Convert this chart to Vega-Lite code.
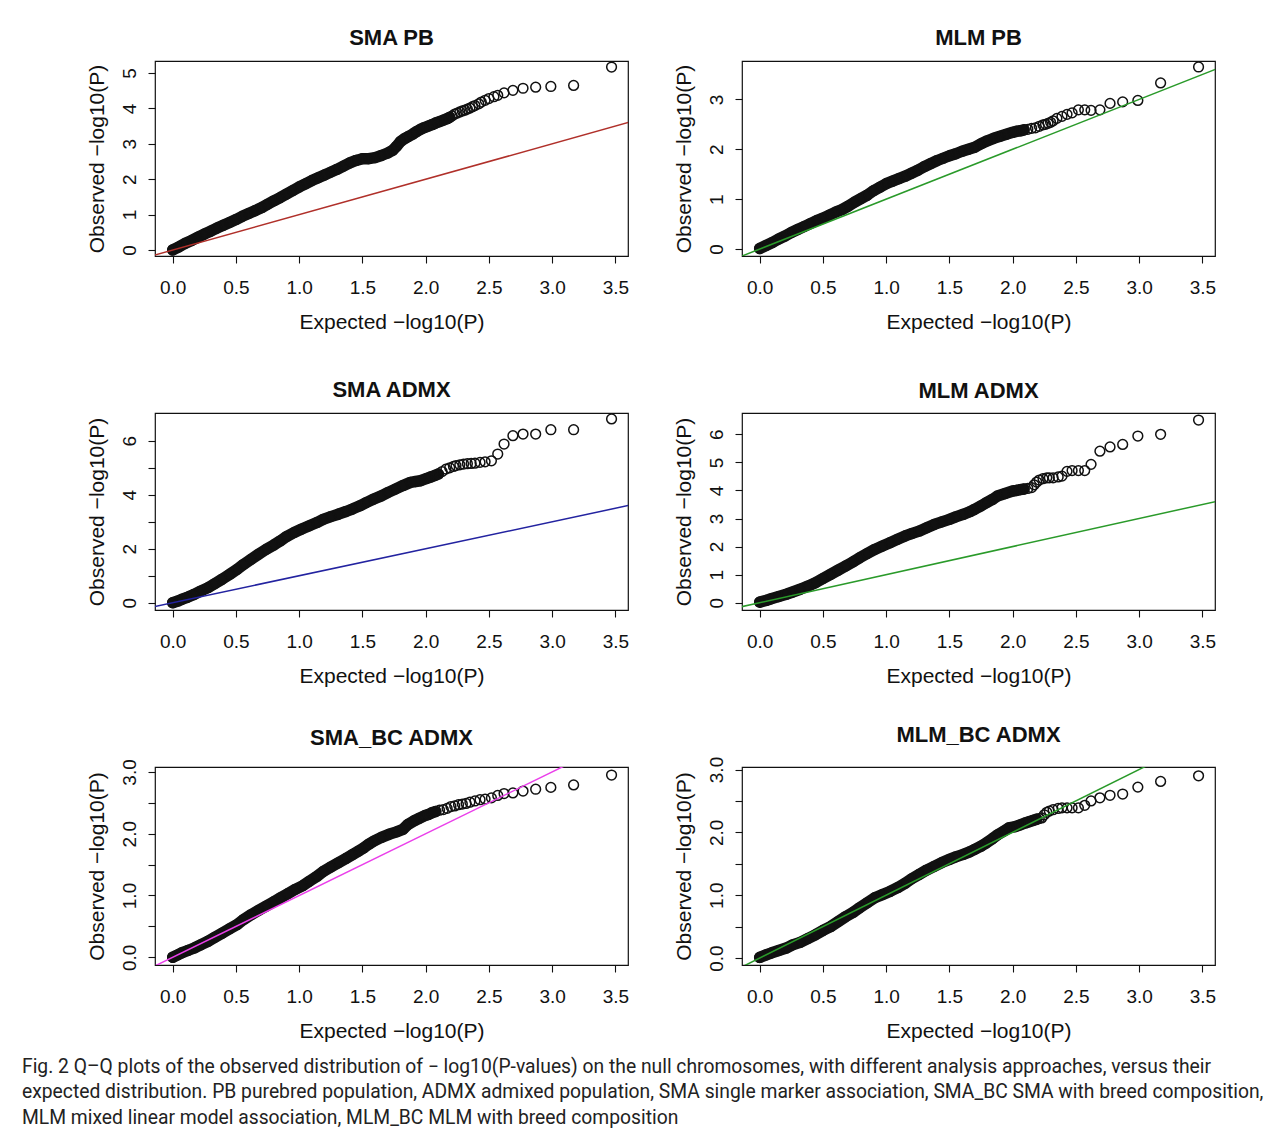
{
  "$schema": "https://vega.github.io/schema/vega-lite/v6.json",
  "background": "white",
  "padding": {"left": 22, "top": 26, "right": 5, "bottom": 5},
  "datasets": {
    "ab": [{"x": -1, "y": -1, "x2": 5, "y2": 5}],
    "p1": [
      {"x":0.00,"y":0.00},{"x":0.05,"y":0.09},{"x":0.10,"y":0.19},{"x":0.15,"y":0.27},{"x":0.20,"y":0.36},{"x":0.25,"y":0.45},{"x":0.30,"y":0.53},{"x":0.35,"y":0.62},{"x":0.40,"y":0.70},{"x":0.45,"y":0.78},{"x":0.50,"y":0.86},{"x":0.55,"y":0.95},{"x":0.60,"y":1.03},{"x":0.65,"y":1.11},{"x":0.70,"y":1.19},{"x":0.75,"y":1.29},{"x":0.80,"y":1.39},{"x":0.85,"y":1.48},{"x":0.90,"y":1.58},{"x":0.95,"y":1.68},{"x":1.00,"y":1.78},{"x":1.05,"y":1.87},{"x":1.10,"y":1.96},{"x":1.15,"y":2.04},{"x":1.20,"y":2.12},{"x":1.25,"y":2.20},{"x":1.30,"y":2.28},{"x":1.35,"y":2.37},{"x":1.40,"y":2.46},{"x":1.45,"y":2.53},{"x":1.50,"y":2.58},{"x":1.55,"y":2.58},{"x":1.60,"y":2.61},{"x":1.65,"y":2.67},{"x":1.70,"y":2.74},{"x":1.74,"y":2.82},{"x":1.77,"y":2.93},
      {"x":1.80,"y":3.06},{"x":1.83,"y":3.14},{"x":1.86,"y":3.20},{"x":1.90,"y":3.28},{"x":1.93,"y":3.35},{"x":1.96,"y":3.41},{"x":1.99,"y":3.46},{"x":2.02,"y":3.50},{"x":2.05,"y":3.54},{"x":2.08,"y":3.59},{"x":2.11,"y":3.63},{"x":2.14,"y":3.67},{"x":2.17,"y":3.71},{"x":2.19,"y":3.75},{"x":2.21,"y":3.79},{"x":2.23,"y":3.84},{"x":2.25,"y":3.87},{"x":2.27,"y":3.90},{"x":2.29,"y":3.93},{"x":2.31,"y":3.95},{"x":2.33,"y":3.98},{"x":2.35,"y":4.01},{"x":2.37,"y":4.05},{"x":2.39,"y":4.08},{"x":2.42,"y":4.13},{"x":2.44,"y":4.18},{"x":2.47,"y":4.23},{"x":2.50,"y":4.28},{"x":2.54,"y":4.33},{"x":2.57,"y":4.37},{"x":2.62,"y":4.44},{"x":2.69,"y":4.51},{"x":2.77,"y":4.57},{"x":2.87,"y":4.60},{"x":2.99,"y":4.62},{"x":3.17,"y":4.65},{"x":3.47,"y":5.17}
    ],
    "p2": [
      {"x":0.00,"y":0.01},{"x":0.05,"y":0.07},{"x":0.10,"y":0.13},{"x":0.15,"y":0.20},{"x":0.20,"y":0.26},{"x":0.25,"y":0.33},{"x":0.30,"y":0.39},{"x":0.35,"y":0.45},{"x":0.40,"y":0.51},{"x":0.45,"y":0.57},{"x":0.50,"y":0.62},{"x":0.55,"y":0.68},{"x":0.60,"y":0.74},{"x":0.65,"y":0.79},{"x":0.70,"y":0.86},{"x":0.75,"y":0.94},{"x":0.80,"y":1.01},{"x":0.85,"y":1.08},{"x":0.90,"y":1.17},{"x":0.95,"y":1.24},{"x":1.00,"y":1.31},{"x":1.05,"y":1.36},{"x":1.10,"y":1.41},{"x":1.15,"y":1.46},{"x":1.20,"y":1.52},{"x":1.25,"y":1.58},{"x":1.30,"y":1.65},{"x":1.35,"y":1.71},{"x":1.40,"y":1.77},{"x":1.45,"y":1.82},{"x":1.50,"y":1.87},{"x":1.55,"y":1.91},{"x":1.60,"y":1.96},{"x":1.65,"y":2.00},{"x":1.70,"y":2.04},{"x":1.75,"y":2.11},{"x":1.80,"y":2.17},{"x":1.85,"y":2.22},{"x":1.90,"y":2.26},{"x":1.95,"y":2.30},{"x":2.00,"y":2.34},
      {"x":2.03,"y":2.36},{"x":2.06,"y":2.37},{"x":2.09,"y":2.39},{"x":2.12,"y":2.40},{"x":2.15,"y":2.42},{"x":2.18,"y":2.43},{"x":2.21,"y":2.46},{"x":2.24,"y":2.49},{"x":2.26,"y":2.50},{"x":2.28,"y":2.52},{"x":2.30,"y":2.54},{"x":2.32,"y":2.57},{"x":2.35,"y":2.62},{"x":2.39,"y":2.66},{"x":2.43,"y":2.70},{"x":2.47,"y":2.73},{"x":2.52,"y":2.79},{"x":2.57,"y":2.79},{"x":2.62,"y":2.78},{"x":2.69,"y":2.79},{"x":2.77,"y":2.92},{"x":2.87,"y":2.95},{"x":2.99,"y":2.98},{"x":3.17,"y":3.33},{"x":3.47,"y":3.65}
    ],
    "p3": [
      {"x":0.00,"y":0.00},{"x":0.04,"y":0.06},{"x":0.07,"y":0.12},{"x":0.12,"y":0.21},{"x":0.17,"y":0.31},{"x":0.22,"y":0.43},{"x":0.28,"y":0.56},{"x":0.33,"y":0.70},{"x":0.39,"y":0.87},{"x":0.45,"y":1.05},{"x":0.51,"y":1.24},{"x":0.56,"y":1.42},{"x":0.62,"y":1.61},{"x":0.68,"y":1.80},{"x":0.74,"y":1.98},{"x":0.80,"y":2.14},{"x":0.85,"y":2.29},{"x":0.90,"y":2.45},{"x":0.96,"y":2.60},{"x":1.02,"y":2.73},{"x":1.08,"y":2.85},{"x":1.14,"y":2.97},{"x":1.19,"y":3.09},{"x":1.25,"y":3.19},{"x":1.31,"y":3.28},{"x":1.37,"y":3.38},{"x":1.42,"y":3.47},{"x":1.48,"y":3.59},{"x":1.53,"y":3.71},{"x":1.59,"y":3.84},{"x":1.65,"y":3.96},{"x":1.70,"y":4.08},{"x":1.76,"y":4.21},{"x":1.82,"y":4.34},{"x":1.88,"y":4.46},{"x":1.92,"y":4.49},{"x":1.96,"y":4.52},{"x":2.01,"y":4.61},
      {"x":2.04,"y":4.66},{"x":2.07,"y":4.71},{"x":2.10,"y":4.77},{"x":2.13,"y":4.86},{"x":2.16,"y":4.95},{"x":2.19,"y":5.00},{"x":2.22,"y":5.05},{"x":2.24,"y":5.08},{"x":2.27,"y":5.11},{"x":2.30,"y":5.14},{"x":2.33,"y":5.15},{"x":2.36,"y":5.16},{"x":2.39,"y":5.17},{"x":2.43,"y":5.20},{"x":2.47,"y":5.22},{"x":2.52,"y":5.26},{"x":2.57,"y":5.51},{"x":2.62,"y":5.88},{"x":2.69,"y":6.19},{"x":2.77,"y":6.25},{"x":2.87,"y":6.25},{"x":2.99,"y":6.41},{"x":3.17,"y":6.41},{"x":3.47,"y":6.81}
    ],
    "p4": [
      {"x":0.00,"y":0.02},{"x":0.05,"y":0.08},{"x":0.09,"y":0.14},{"x":0.15,"y":0.22},{"x":0.21,"y":0.30},{"x":0.26,"y":0.38},{"x":0.32,"y":0.48},{"x":0.38,"y":0.59},{"x":0.44,"y":0.71},{"x":0.50,"y":0.86},{"x":0.56,"y":1.01},{"x":0.62,"y":1.16},{"x":0.68,"y":1.31},{"x":0.74,"y":1.46},{"x":0.79,"y":1.60},{"x":0.85,"y":1.75},{"x":0.91,"y":1.90},{"x":0.97,"y":2.02},{"x":1.03,"y":2.14},{"x":1.09,"y":2.26},{"x":1.15,"y":2.38},{"x":1.20,"y":2.46},{"x":1.26,"y":2.55},{"x":1.32,"y":2.67},{"x":1.38,"y":2.79},{"x":1.44,"y":2.88},{"x":1.50,"y":2.97},{"x":1.55,"y":3.06},{"x":1.61,"y":3.15},{"x":1.66,"y":3.24},{"x":1.70,"y":3.33},{"x":1.75,"y":3.45},{"x":1.79,"y":3.56},{"x":1.84,"y":3.68},{"x":1.88,"y":3.80},{"x":1.94,"y":3.89},{"x":2.00,"y":3.98},
      {"x":2.03,"y":4.00},{"x":2.06,"y":4.03},{"x":2.09,"y":4.05},{"x":2.12,"y":4.07},{"x":2.15,"y":4.10},{"x":2.17,"y":4.20},{"x":2.19,"y":4.30},{"x":2.21,"y":4.37},{"x":2.24,"y":4.42},{"x":2.27,"y":4.45},{"x":2.29,"y":4.45},{"x":2.32,"y":4.45},{"x":2.36,"y":4.48},{"x":2.39,"y":4.51},{"x":2.43,"y":4.68},{"x":2.47,"y":4.71},{"x":2.52,"y":4.71},{"x":2.57,"y":4.71},{"x":2.62,"y":4.93},{"x":2.69,"y":5.40},{"x":2.77,"y":5.55},{"x":2.87,"y":5.64},{"x":2.99,"y":5.94},{"x":3.17,"y":6.00},{"x":3.47,"y":6.51}
    ],
    "p5": [
      {"x":0.00,"y":0.00},{"x":0.04,"y":0.04},{"x":0.07,"y":0.07},{"x":0.12,"y":0.11},{"x":0.17,"y":0.15},{"x":0.22,"y":0.20},{"x":0.28,"y":0.26},{"x":0.33,"y":0.32},{"x":0.39,"y":0.39},{"x":0.45,"y":0.46},{"x":0.51,"y":0.53},{"x":0.56,"y":0.61},{"x":0.62,"y":0.69},{"x":0.68,"y":0.76},{"x":0.74,"y":0.83},{"x":0.80,"y":0.90},{"x":0.85,"y":0.96},{"x":0.91,"y":1.03},{"x":0.97,"y":1.10},{"x":1.03,"y":1.16},{"x":1.08,"y":1.23},{"x":1.14,"y":1.31},{"x":1.19,"y":1.39},{"x":1.25,"y":1.46},{"x":1.31,"y":1.53},{"x":1.37,"y":1.60},{"x":1.42,"y":1.66},{"x":1.47,"y":1.72},{"x":1.51,"y":1.77},{"x":1.55,"y":1.83},{"x":1.59,"y":1.88},{"x":1.65,"y":1.94},{"x":1.71,"y":1.99},{"x":1.77,"y":2.03},{"x":1.82,"y":2.07},{"x":1.86,"y":2.15},{"x":1.91,"y":2.21},{"x":1.95,"y":2.25},{"x":1.99,"y":2.29},
      {"x":2.02,"y":2.31},{"x":2.05,"y":2.34},{"x":2.08,"y":2.36},{"x":2.11,"y":2.38},{"x":2.14,"y":2.39},{"x":2.17,"y":2.41},{"x":2.20,"y":2.44},{"x":2.23,"y":2.45},{"x":2.26,"y":2.47},{"x":2.29,"y":2.48},{"x":2.32,"y":2.49},{"x":2.35,"y":2.51},{"x":2.39,"y":2.53},{"x":2.43,"y":2.55},{"x":2.47,"y":2.56},{"x":2.52,"y":2.58},{"x":2.57,"y":2.62},{"x":2.62,"y":2.65},{"x":2.69,"y":2.66},{"x":2.77,"y":2.69},{"x":2.87,"y":2.72},{"x":2.99,"y":2.75},{"x":3.17,"y":2.79},{"x":3.47,"y":2.95}
    ],
    "p6": [
      {"x":0.00,"y":0.01},{"x":0.05,"y":0.05},{"x":0.09,"y":0.08},{"x":0.15,"y":0.12},{"x":0.21,"y":0.16},{"x":0.26,"y":0.21},{"x":0.32,"y":0.25},{"x":0.38,"y":0.31},{"x":0.44,"y":0.37},{"x":0.50,"y":0.44},{"x":0.56,"y":0.50},{"x":0.62,"y":0.58},{"x":0.68,"y":0.66},{"x":0.74,"y":0.73},{"x":0.79,"y":0.80},{"x":0.85,"y":0.88},{"x":0.91,"y":0.96},{"x":0.97,"y":1.01},{"x":1.03,"y":1.06},{"x":1.09,"y":1.12},{"x":1.15,"y":1.19},{"x":1.20,"y":1.26},{"x":1.26,"y":1.33},{"x":1.32,"y":1.40},{"x":1.38,"y":1.46},{"x":1.44,"y":1.52},{"x":1.50,"y":1.57},{"x":1.55,"y":1.61},{"x":1.61,"y":1.65},{"x":1.66,"y":1.69},{"x":1.70,"y":1.73},{"x":1.75,"y":1.78},{"x":1.79,"y":1.83},{"x":1.84,"y":1.90},{"x":1.88,"y":1.96},{"x":1.93,"y":2.02},{"x":1.97,"y":2.07},{"x":2.02,"y":2.09},{"x":2.06,"y":2.12},
      {"x":2.10,"y":2.15},{"x":2.13,"y":2.17},{"x":2.16,"y":2.19},{"x":2.19,"y":2.21},{"x":2.21,"y":2.22},{"x":2.23,"y":2.23},{"x":2.25,"y":2.28},{"x":2.27,"y":2.32},{"x":2.29,"y":2.34},{"x":2.32,"y":2.36},{"x":2.36,"y":2.38},{"x":2.39,"y":2.39},{"x":2.43,"y":2.39},{"x":2.47,"y":2.39},{"x":2.52,"y":2.39},{"x":2.57,"y":2.43},{"x":2.62,"y":2.50},{"x":2.69,"y":2.55},{"x":2.77,"y":2.59},{"x":2.87,"y":2.61},{"x":2.99,"y":2.72},{"x":3.17,"y":2.81},{"x":3.47,"y":2.90}
    ]
  },
  "title": {
    "text": [
      "Fig. 2  Q–Q plots of the observed distribution of − log10(P-values) on the null chromosomes, with different analysis approaches, versus their",
      "expected distribution. PB purebred population, ADMX admixed population, SMA single marker association, SMA_BC SMA with breed composition,",
      "MLM mixed linear model association, MLM_BC MLM with breed composition"
    ],
    "orient": "bottom",
    "anchor": "start",
    "frame": "group",
    "font": "Roboto",
    "fontSize": 19.3,
    "fontWeight": "normal",
    "color": "#222222",
    "lineHeight": 25.5,
    "baseline": "alphabetic",
    "offset": 31,
    "dx": -133
  },
  "columns": 2,
  "bounds": "flush",
  "spacing": {"row": 157, "column": 114},
  "resolve": {"scale": {"x": "independent", "y": "independent"}},
  "concat": [
    {
      "title": "SMA PB",
      "width": 473, "height": 195,
      "encoding": {
        "x": {"field": "x", "type": "quantitative", "scale": {"domain": [-0.14, 3.6], "nice": false, "zero": false},
              "axis": {"values": [0, 0.5, 1, 1.5, 2, 2.5, 3, 3.5], "format": ".1f", "title": "Expected −log10(P)", "titleX": 236.5, "titleY": 72}},
        "y": {"field": "y", "type": "quantitative", "scale": {"domain": [-0.17, 5.34], "nice": false, "zero": false},
              "axis": {"values": [0, 1, 2, 3, 4, 5], "format": "d", "title": "Observed −log10(P)", "titleX": -52, "titleY": 97.5}}
      },
      "layer": [
        {"data": {"name": "p1"}, "transform": [{"filter": "datum.x <= 2.2"}], "mark": {"type": "line", "color": "#111111", "strokeWidth": 11.5, "strokeCap": "round", "strokeJoin": "round"}, "encoding": {}},
        {"data": {"name": "p1"}, "mark": {"type": "point", "shape": "circle", "filled": false, "size": 95, "strokeWidth": 1.5, "color": "#111111", "opacity": 1}, "encoding": {}},
        {"data": {"name": "ab"}, "mark": {"type": "rule", "color": "#b0302a", "strokeWidth": 1.5, "clip": true}, "encoding": {"x2": {"field": "x2"}, "y2": {"field": "y2"}}}
      ]
    },
    {
      "title": "MLM PB",
      "width": 473, "height": 195,
      "encoding": {
        "x": {"field": "x", "type": "quantitative", "scale": {"domain": [-0.14, 3.6], "nice": false, "zero": false},
              "axis": {"values": [0, 0.5, 1, 1.5, 2, 2.5, 3, 3.5], "format": ".1f", "title": "Expected −log10(P)", "titleX": 236.5, "titleY": 72}},
        "y": {"field": "y", "type": "quantitative", "scale": {"domain": [-0.14, 3.77], "nice": false, "zero": false},
              "axis": {"values": [0, 1, 2, 3], "format": "d", "title": "Observed −log10(P)", "titleX": -52, "titleY": 97.5}}
      },
      "layer": [
        {"data": {"name": "p2"}, "transform": [{"filter": "datum.x <= 2.1"}], "mark": {"type": "line", "color": "#111111", "strokeWidth": 11.5, "strokeCap": "round", "strokeJoin": "round"}, "encoding": {}},
        {"data": {"name": "p2"}, "mark": {"type": "point", "shape": "circle", "filled": false, "size": 95, "strokeWidth": 1.5, "color": "#111111", "opacity": 1}, "encoding": {}},
        {"data": {"name": "ab"}, "mark": {"type": "rule", "color": "#2a9a2a", "strokeWidth": 1.5, "clip": true}, "encoding": {"x2": {"field": "x2"}, "y2": {"field": "y2"}}}
      ]
    },
    {
      "title": "SMA ADMX",
      "width": 473, "height": 197,
      "encoding": {
        "x": {"field": "x", "type": "quantitative", "scale": {"domain": [-0.14, 3.6], "nice": false, "zero": false},
              "axis": {"values": [0, 0.5, 1, 1.5, 2, 2.5, 3, 3.5], "format": ".1f", "title": "Expected −log10(P)", "titleX": 236.5, "titleY": 72}},
        "y": {"field": "y", "type": "quantitative", "scale": {"domain": [-0.27, 7.03], "nice": false, "zero": false},
              "axis": {"values": [0, 1, 2, 3, 4, 5, 6], "format": "d", "labelExpr": "datum.value % 2 === 0 ? datum.label : ''", "title": "Observed −log10(P)", "titleX": -52, "titleY": 98.5}}
      },
      "layer": [
        {"data": {"name": "p3"}, "transform": [{"filter": "datum.x <= 2.1"}], "mark": {"type": "line", "color": "#111111", "strokeWidth": 11.5, "strokeCap": "round", "strokeJoin": "round"}, "encoding": {}},
        {"data": {"name": "p3"}, "mark": {"type": "point", "shape": "circle", "filled": false, "size": 95, "strokeWidth": 1.5, "color": "#111111", "opacity": 1}, "encoding": {}},
        {"data": {"name": "ab"}, "mark": {"type": "rule", "color": "#2323a0", "strokeWidth": 1.5, "clip": true}, "encoding": {"x2": {"field": "x2"}, "y2": {"field": "y2"}}}
      ]
    },
    {
      "title": "MLM ADMX",
      "width": 473, "height": 197,
      "encoding": {
        "x": {"field": "x", "type": "quantitative", "scale": {"domain": [-0.14, 3.6], "nice": false, "zero": false},
              "axis": {"values": [0, 0.5, 1, 1.5, 2, 2.5, 3, 3.5], "format": ".1f", "title": "Expected −log10(P)", "titleX": 236.5, "titleY": 72}},
        "y": {"field": "y", "type": "quantitative", "scale": {"domain": [-0.26, 6.76], "nice": false, "zero": false},
              "axis": {"values": [0, 1, 2, 3, 4, 5, 6], "format": "d", "title": "Observed −log10(P)", "titleX": -52, "titleY": 98.5}}
      },
      "layer": [
        {"data": {"name": "p4"}, "transform": [{"filter": "datum.x <= 2.1"}], "mark": {"type": "line", "color": "#111111", "strokeWidth": 11.5, "strokeCap": "round", "strokeJoin": "round"}, "encoding": {}},
        {"data": {"name": "p4"}, "mark": {"type": "point", "shape": "circle", "filled": false, "size": 95, "strokeWidth": 1.5, "color": "#111111", "opacity": 1}, "encoding": {}},
        {"data": {"name": "ab"}, "mark": {"type": "rule", "color": "#2a9a2a", "strokeWidth": 1.5, "clip": true}, "encoding": {"x2": {"field": "x2"}, "y2": {"field": "y2"}}}
      ]
    },
    {
      "title": "SMA_BC ADMX",
      "width": 473, "height": 198,
      "encoding": {
        "x": {"field": "x", "type": "quantitative", "scale": {"domain": [-0.14, 3.6], "nice": false, "zero": false},
              "axis": {"values": [0, 0.5, 1, 1.5, 2, 2.5, 3, 3.5], "format": ".1f", "title": "Expected −log10(P)", "titleX": 236.5, "titleY": 72}},
        "y": {"field": "y", "type": "quantitative", "scale": {"domain": [-0.125, 3.08], "nice": false, "zero": false},
              "axis": {"values": [0, 0.5, 1, 1.5, 2, 2.5, 3], "format": ".1f", "labelExpr": "datum.value % 1 === 0 ? datum.label : ''", "title": "Observed −log10(P)", "titleX": -52, "titleY": 99}}
      },
      "layer": [
        {"data": {"name": "p5"}, "transform": [{"filter": "datum.x <= 2.1"}], "mark": {"type": "line", "color": "#111111", "strokeWidth": 11.5, "strokeCap": "round", "strokeJoin": "round"}, "encoding": {}},
        {"data": {"name": "p5"}, "mark": {"type": "point", "shape": "circle", "filled": false, "size": 95, "strokeWidth": 1.5, "color": "#111111", "opacity": 1}, "encoding": {}},
        {"data": {"name": "ab"}, "mark": {"type": "rule", "color": "#ea40ea", "strokeWidth": 1.5, "clip": true}, "encoding": {"x2": {"field": "x2"}, "y2": {"field": "y2"}}}
      ]
    },
    {
      "title": "MLM_BC ADMX",
      "width": 473, "height": 198,
      "encoding": {
        "x": {"field": "x", "type": "quantitative", "scale": {"domain": [-0.14, 3.6], "nice": false, "zero": false},
              "axis": {"values": [0, 0.5, 1, 1.5, 2, 2.5, 3, 3.5], "format": ".1f", "title": "Expected −log10(P)", "titleX": 236.5, "titleY": 72}},
        "y": {"field": "y", "type": "quantitative", "scale": {"domain": [-0.11, 3.04], "nice": false, "zero": false},
              "axis": {"values": [0, 0.5, 1, 1.5, 2, 2.5, 3], "format": ".1f", "labelExpr": "datum.value % 1 === 0 ? datum.label : ''", "title": "Observed −log10(P)", "titleX": -52, "titleY": 99}}
      },
      "layer": [
        {"data": {"name": "p6"}, "transform": [{"filter": "datum.x <= 2.2"}], "mark": {"type": "line", "color": "#111111", "strokeWidth": 11.5, "strokeCap": "round", "strokeJoin": "round"}, "encoding": {}},
        {"data": {"name": "p6"}, "mark": {"type": "point", "shape": "circle", "filled": false, "size": 95, "strokeWidth": 1.5, "color": "#111111", "opacity": 1}, "encoding": {}},
        {"data": {"name": "ab"}, "mark": {"type": "rule", "color": "#2a9a2a", "strokeWidth": 1.5, "clip": true}, "encoding": {"x2": {"field": "x2"}, "y2": {"field": "y2"}}}
      ]
    }
  ],
  "config": {
    "view": {"stroke": "#111111", "strokeWidth": 1.2},
    "font": "Liberation Sans",
    "axis": {"domain": false, "grid": false, "ticks": true, "tickColor": "#111111", "tickSize": 7, "tickWidth": 1.1,
             "labelFont": "Liberation Sans", "labelFontSize": 19, "labelColor": "#111111", "labelFlush": false, "labelOverlap": false,
             "titleFont": "Liberation Sans", "titleFontSize": 21, "titleFontWeight": "normal", "titleColor": "#111111"},
    "axisX": {"labelPadding": 30, "labelBaseline": "alphabetic", "labelAngle": 0, "titleBaseline": "alphabetic", "titleAlign": "center", "titleAngle": 0},
    "axisY": {"labelAngle": 270, "labelAlign": "center", "labelBaseline": "alphabetic", "labelPadding": 13, "titleAngle": 270, "titleAlign": "center", "titleBaseline": "alphabetic"},
    "title": {"font": "Liberation Sans", "fontSize": 22, "fontWeight": "bold", "color": "#111111", "offset": 9, "baseline": "alphabetic"}
  }
}
